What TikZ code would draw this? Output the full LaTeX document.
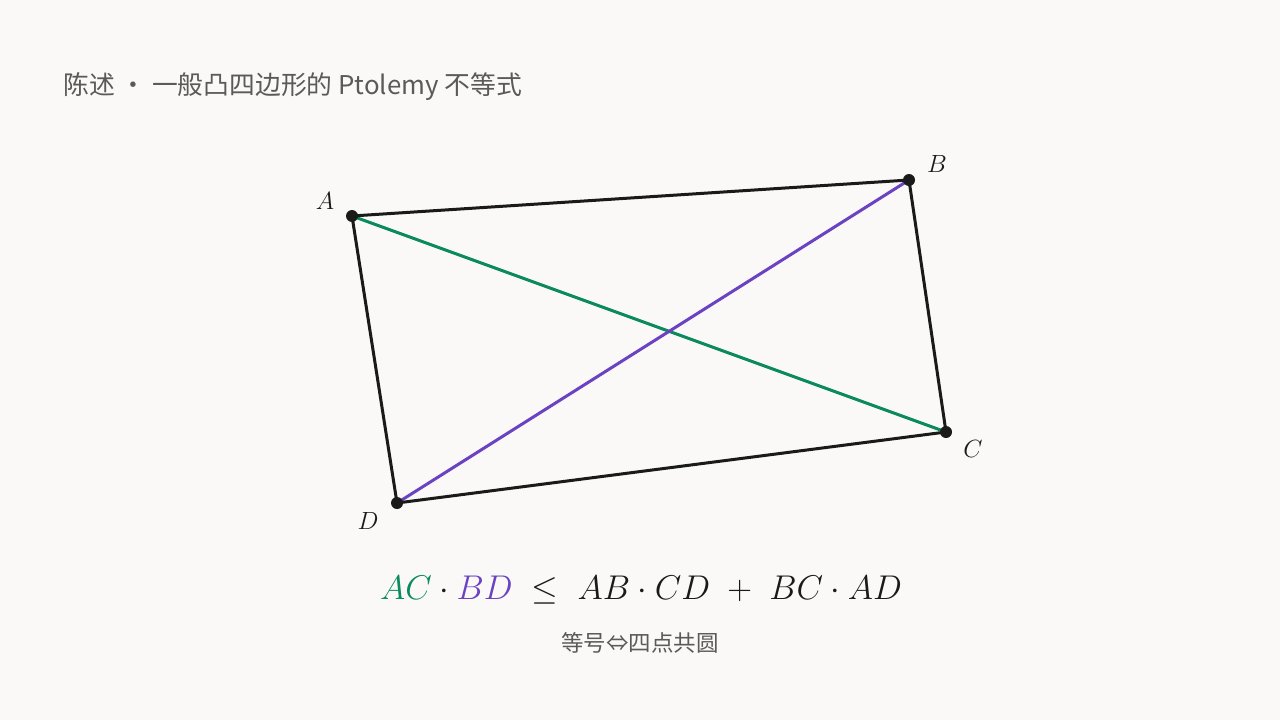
\documentclass[tikz,border=0pt]{standalone}
\usepackage{fontspec}
\newfontfamily\cjk{Noto Sans CJK SC}
\definecolor{bg}{HTML}{FAF9F7}
\definecolor{ink}{HTML}{1A1A1A}
\definecolor{grn}{HTML}{0A8A5E}
\definecolor{pur}{HTML}{6A42C2}
\definecolor{gry}{HTML}{5A5A5A}
\tikzset{
  edge/.style={draw=ink, line width=3pt, line join=round},
  diag/.style={line width=3pt},
  pt/.style={circle, fill=ink, inner sep=0pt, minimum size=12pt},
  lbl/.style={font=\fontsize{24}{28}\selectfont, text=ink},
}
\begin{document}
\begin{tikzpicture}[x=1pt,y=-1pt]
\fill[bg] (0,0) rectangle (1280,720);
\useasboundingbox (0,0) rectangle (1280,720);
\node[anchor=base west, inner sep=0pt, text=gry, font=\cjk\fontsize{25.8}{30}\selectfont] (title) at (63,94) {陈述 · 一般凸四边形的 Ptolemy 不等式};
\coordinate (A) at (352,216);
\coordinate (B) at (909,180);
\coordinate (C) at (946,432);
\coordinate (D) at (397,503);
\draw[diag, draw=grn] (A) -- (C);
\draw[diag, draw=pur] (D) -- (B);
\draw[edge] (A) -- (B) -- (C) -- (D) -- cycle;
\node[pt] (pA) at (A) {};
\node[pt] (pB) at (B) {};
\node[pt] (pC) at (C) {};
\node[pt] (pD) at (D) {};
\node[lbl] (lA) at (325,201) {$A$};
\node[lbl] (lB) at (937,164) {$B$};
\node[lbl] (lC) at (973,449) {$C$};
\node[lbl] (lD) at (368,521) {$D$};
\node[anchor=base, inner sep=0pt, scale=1.38, transform shape, font=\fontsize{24.88}{30}\selectfont, text=ink] (eq) at (641,599)
  {$\color{grn}AC\color{ink}\cdot\color{pur}BD\color{ink}\;\le\;AB\cdot CD\;+\;BC\cdot AD$};
\node[anchor=base, inner sep=0pt, text=gry, font=\cjk\fontsize{22.5}{27}\selectfont] (sub) at (640,651) {等号⇔四点共圆};
\end{tikzpicture}
\end{document}
